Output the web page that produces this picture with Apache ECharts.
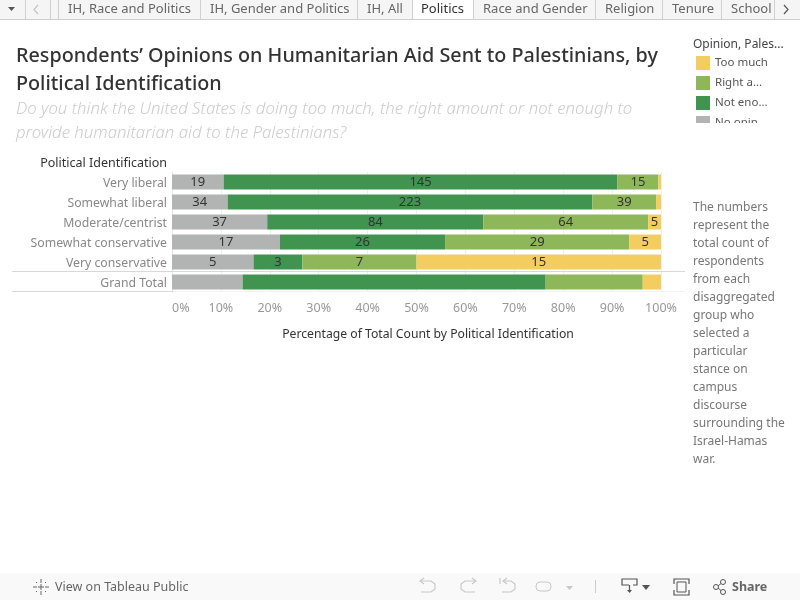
<!DOCTYPE html>
<html><head><meta charset="utf-8">
<style>html,body{margin:0;padding:0;background:#fff}#c{width:800px;height:600px}</style>
<script src="https://cdn.jsdelivr.net/npm/echarts@6/dist/echarts.min.js"></script>
</head><body><div id="c"></div>
<script>
const categories = ['Very liberal','Somewhat liberal','Moderate/centrist','Somewhat conservative','Very conservative','Grand Total'];
const noOpinion = [19,34,37,17,5,112];
const notEnough = [145,223,84,26,3,481];
const rightAmount = [15,39,64,29,7,154];
const tooMuch = [1,3,5,5,15,29];
const xTicks = [0,10,20,30,40,50,60,70,80,90,100];
const tabs = ['IH, Race and Politics','IH, Gender and Politics','IH, All','Politics','Race and Gender','Religion','Tenure','School'];
const noteLines = ['The numbers','represent the','total count of','respondents','from each','disaggregated','group who','selected a','particular','stance on','campus','discourse','surrounding the','Israel-Hamas','war.'];
const titleText = 'Respondents\u2019 Opinions on Humanitarian Aid Sent to Palestinians, by\nPolitical Identification';
const subText = 'Do you think the United States is doing too much, the right amount or not enough to\nprovide humanitarian aid to the Palestinians?';
const seriesDefs = [['No opinion',noOpinion,'#b2b4b4'],['Not enough',notEnough,'#419350'],['Right amount',rightAmount,'#8db758'],['Too much',tooMuch,'#f3cd60']];

const FONT = '"Noto Sans"';
const chart = echarts.init(document.getElementById('c'),null,{renderer:'canvas'});
const totals = categories.map((_,i)=>seriesDefs.reduce((s,d)=>s+d[1][i],0));
const series = seriesDefs.map(d=>({
  name:d[0],type:'bar',stack:'a',barWidth:15,itemStyle:{color:d[2]},
  data:d[1].map((v,i)=>({value:v/totals[i]*100,count:v,row:i})),
  label:{show:true,position:'inside',color:'#333',fontFamily:FONT,fontSize:13,
    formatter:p=>(p.data.row===5||p.data.value<2)?'':String(p.data.count)},
  z:3
}));

const g=[];
const txt=(text,x,y,font,fill,align)=>g.push({type:'text',z:50,style:{text,x,y,font,fill,textAlign:align||'left',textVerticalAlign:'middle'}});
const rect=(x,y,w,h,fill,z)=>g.push({type:'rect',z:z||40,shape:{x,y,width:w,height:h},style:{fill}});
const line=(x1,y1,x2,y2,c,w,z)=>g.push({type:'line',z:z||45,shape:{x1,y1,x2,y2},style:{stroke:c,lineWidth:w||1,fill:null}});
const poly=(pts,c,w)=>g.push({type:'polyline',z:50,shape:{points:pts},style:{stroke:c,lineWidth:w||1.2,fill:null}});
const tri=(pts,c)=>g.push({type:'polygon',z:50,shape:{points:pts},style:{fill:c}});

// tab strip
rect(0,0,800,19,'#f5f5f5');
line(0,19.5,800,19.5,'#cfcfcf');
const tabEdges=[58,200,357,412,473,595,662,721,774];
rect(412,0,61,20,'#ffffff',41);
[25,50].concat(tabEdges).forEach(x=>line(x+.5,0,x+.5,19,'#d0d0d0',1,46));
tri([[8,7],[15,7],[11.5,11]],'#555');
poly([[38,5],[34,9.5],[38,14]],'#c4c4c4');
poly([[784,5],[788,9.5],[784,14]],'#555');
const tabX=[68,210,367,421,483,605,672,731];
tabs.forEach((t,i)=>txt(t,tabX[i],9.5,'13px '+FONT,i===3?'#333':'#666'));
rect(774,0,26,19,'#f5f5f5',49);
line(774.5,0,774.5,19,'#d0d0d0',1,52);

// chart rules
line(12,271.5,685,271.5,'#d8d8d8');
line(12,291.5,173,291.5,'#d8d8d8');
line(173,291.5,685,291.5,'#f2f2f2');
txt('Political Identification',167,163,'12.5px '+FONT,'#333','right');

// note
noteLines.forEach((t,i)=>txt(t,693,207.5+i*18,'12px '+FONT,'#777'));
// legend head + clip
txt('Opinion, Pales...',693,44.5,'12px '+FONT,'#444');
rect(690,123,110,12,'#ffffff',60);

// footer
rect(0,573,800,27,'#f9f9f9');
txt('View on Tableau Public',55,587,'12.5px '+FONT,'#666');
[[41,579,41,595],[33,587,49,587]].forEach(a=>line(a[0],a[1],a[2],a[3],'#666',1,50));
[[36,582,46,592],[46,582,36,592]].forEach(a=>line(a[0],a[1],a[2],a[3],'#666',1,50));
rect(37,583,8,8,'#f9f9f9',51);
[[41,584,41,590],[38,587,44,587]].forEach(a=>line(a[0],a[1],a[2],a[3],'#666',1,52));
poly([[421,581],[431,581],[435,584],[435,589],[431,592],[421,592]],'#c8c8c8');
poly([[424,578],[420,581],[424,584]],'#c8c8c8');
poly([[475,581],[465,581],[461,584],[461,589],[465,592],[475,592]],'#c8c8c8');
poly([[472,578],[476,581],[472,584]],'#c8c8c8');
poly([[500,578],[500,584]],'#c8c8c8');
poly([[503,581],[511,581],[515,584],[515,589],[511,592],[502,592]],'#c8c8c8');
poly([[507,578],[503,581],[507,584]],'#c8c8c8');
g.push({type:'rect',z:50,shape:{x:536,y:582,width:15,height:9,r:4},style:{stroke:'#c8c8c8',fill:null}});
tri([[566,586],[573,586],[569.5,590]],'#c8c8c8');
line(595.5,580,595.5,593,'#ccc');
poly([[629,585],[622,585],[622,579],[637,579],[637,585],[633,585]],'#555');
poly([[629.5,585],[629.5,592]],'#555');
tri([[627,590],[632,590],[629.5,593]],'#555');
tri([[642,585],[650,585],[646,590]],'#555');
poly([[674,584],[674,579],[689,579],[689,584]],'#555');
poly([[674,590],[674,595],[689,595],[689,590]],'#555');
g.push({type:'rect',z:50,shape:{x:677,y:582,width:9,height:10},style:{stroke:'#555',fill:null}});
[[716,587],[723,582],[723,592]].forEach(p=>g.push({type:'circle',z:50,shape:{cx:p[0],cy:p[1],r:2.5},style:{stroke:'#555',fill:'#f9f9f9'}}));
line(718,586,721,583.5,'#555',1,49);line(718,588,721,590.5,'#555',1,49);
txt('Share',732,587,'bold 12.5px '+FONT,'#666');

chart.setOption({
  animation:false,backgroundColor:'#fff',
  title:{text:titleText,left:16,top:42,padding:0,itemGap:-1,
    textStyle:{fontFamily:FONT,fontSize:19.75,fontWeight:500,color:'#333',lineHeight:28},
    subtext:subText,
    subtextStyle:{fontFamily:FONT,fontSize:16.75,fontStyle:'italic',fontWeight:300,color:'#ccc',lineHeight:24}},
  legend:{orient:'vertical',left:696,top:56,padding:0,itemWidth:14,itemHeight:14,itemGap:6,selectedMode:false,icon:'rect',
    data:['Too much','Right amount','Not enough','No opinion'],
    textStyle:{fontFamily:FONT,fontSize:11.5,color:'#555',width:56,overflow:'truncate',ellipsis:'...'}},
  grid:{left:172,width:489,top:172,height:120,containLabel:false},
  xAxis:{type:'value',min:xTicks[0],max:xTicks[xTicks.length-1],interval:10,
    name:'Percentage of Total Count by Political Identification',nameLocation:'middle',nameGap:37,
    nameTextStyle:{fontFamily:FONT,fontSize:12.2,color:'#333',padding:[0,0,0,23]},
    axisLine:{show:false},axisTick:{show:false},
    splitLine:{show:true,lineStyle:{color:'#f0f0f0',width:1}},
    axisLabel:{formatter:'{value}%',fontFamily:FONT,fontSize:12.5,color:'#999',margin:10,alignMinLabel:'left'}},
  yAxis:{type:'category',data:categories,inverse:true,
    axisLine:{show:true,lineStyle:{color:'#e6e6e6'}},axisTick:{show:false},
    axisLabel:{margin:5,formatter:v=>'{a|'+v+'}',
      rich:{a:{fontFamily:FONT,fontSize:12.25,color:'#888',padding:[3,0,0,0]}}}},
  series,
  graphic:{elements:g}
});
</script></body></html>
